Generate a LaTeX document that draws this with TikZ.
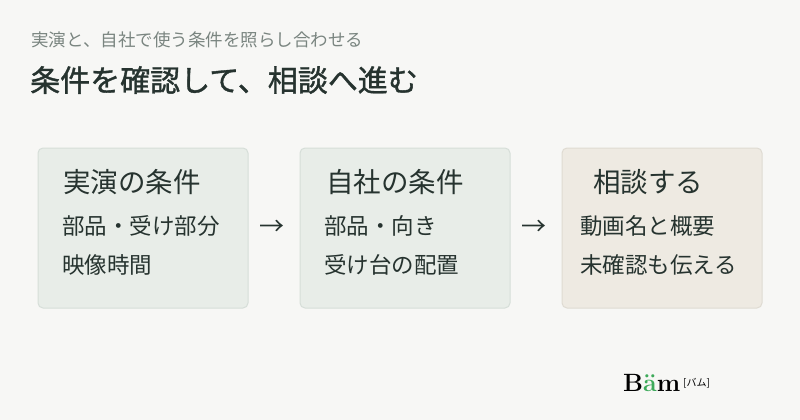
\documentclass[tikz,border=0pt]{standalone}
\usepackage{fontspec}
\newfontfamily\cjk{Noto Sans CJK JP}
\newfontfamily\cjkm{Noto Sans CJK JP}[FakeBold=1.2]
\definecolor{bg}{HTML}{F7F7F5}
\definecolor{sub}{HTML}{7A8580}
\definecolor{ttl}{HTML}{26332F}
\definecolor{gfill}{HTML}{E8EDE8}
\definecolor{gline}{HTML}{D6DED8}
\definecolor{bfill}{HTML}{EEEAE2}
\definecolor{bline}{HTML}{DFDBD2}
\definecolor{grn}{HTML}{3DAA5A}
\begin{document}
\begin{tikzpicture}[x=1pt,y=-1pt,
 box/.style={draw=gline,fill=gfill,rounded corners=5pt,line width=1pt},
 head/.style={anchor=west,font=\cjk\fontsize{27.5}{30}\selectfont,text=ttl,inner sep=0},
 ln/.style={anchor=west,font=\cjk\fontsize{22.5}{24}\selectfont,text=ttl,inner sep=0},
 arr/.style={font=\cjk\fontsize{25}{26}\selectfont,text=ttl,inner sep=0}]
\fill[bg] (0,0) rectangle (800,420);
\useasboundingbox (0,0) rectangle (800,420);
\node[anchor=west,inner sep=0,font=\cjk\fontsize{17.5}{19}\selectfont,text=sub] (sub) at (31,40) {実演と、自社で使う条件を照らし合わせる};
\node[anchor=west,inner sep=0,font=\cjkm\fontsize{30}{33}\selectfont,text=ttl] (ttl) at (30,80) {条件を確認して、相談へ進む};
\draw[box] (38,148) rectangle (248,308);
\draw[box] (300,148) rectangle (510,308);
\draw[box,draw=bline,fill=bfill] (562,148) rectangle (762,308);
\node[head] (h1) at (63,182) {実演の条件};
\node[ln] (a1) at (62,226) {部品・受け部分};
\node[ln] (b1) at (62,265) {映像時間};
\node[head] (h2) at (326,182) {自社の条件};
\node[ln] (a2) at (324,226) {部品・向き};
\node[ln] (b2) at (324,265) {受け台の配置};
\node[head] (h3) at (593,182) {相談する};
\node[ln] (a3) at (580,226) {動画名と概要};
\node[ln] (b3) at (580,265) {未確認も伝える};
\node[arr] (r1) at (272,228) {→};
\node[arr] (r2) at (534,228) {→};
\node[anchor=west,inner sep=0,font=\bfseries\fontsize{25}{25}\selectfont] (logo) at (623,383) {B\textcolor{grn}{ä}m};
\node[anchor=west,inner sep=0,font=\cjk\fontsize{10}{10}\selectfont] (logo2) at (683,383) {[バム]};
\end{tikzpicture}
\end{document}
